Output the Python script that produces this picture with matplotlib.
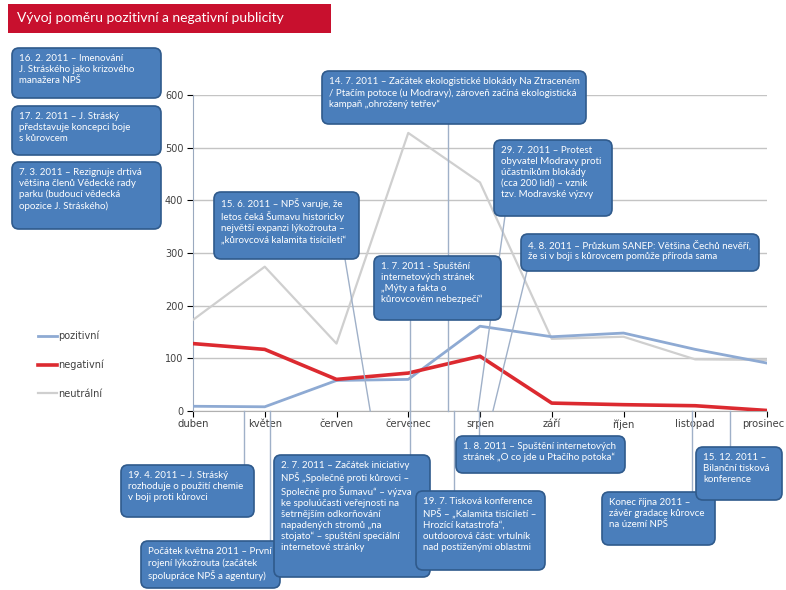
import matplotlib
matplotlib.use("Agg")
import matplotlib.pyplot as plt
import matplotlib.transforms as mtransforms
from matplotlib.patches import FancyBboxPatch, Rectangle

# data
months = ["duben", "květen", "červen", "červenec", "srpen", "září", "říjen", "listopad", "prosinec"]
pozitivni = [9, 8, 58, 60, 161, 141, 148, 117, 91]
negativni = [128, 117, 60, 72, 104, 15, 12, 10, 1]
neutralni = [173, 274, 128, 528, 434, 137, 141, 98, 97]

title = "Vývoj poměru pozitivní a negativní publicity"

# event annotations: text, position of the event on the month axis (None = no link)
events = [
    ("16. 2. 2011 – Imenování\nJ. Stráského jako krizového\nmanažera NPŠ", None),
    ("17. 2. 2011 – J. Stráský\npředstavuje koncepci boje\ns kůrovcem", None),
    ("7. 3. 2011 – Rezignuje drtivá\nvětšina členů Vědecké rady\nparku (budoucí vědecká\nopozice J. Stráského)", None),
    ("14. 7. 2011 – Začátek ekologistické blokády Na Ztraceném\n/ Ptačím potoce (u Modravy), zároveň začíná ekologistická\nkampaň „ohrožený tetřev“", 3.55),
    ("15. 6. 2011 – NPŠ varuje, že\nletos čeká Šumavu historicky\nnejvětší expanzi lýkožrouta –\n„kůrovcová kalamita tisíciletí“", 2.47),
    ("29. 7. 2011 – Protest\nobyvatel Modravy proti\núčastníkům blokády\n(cca 200 lidí) – vznik\ntzv. Modravské výzvy", 3.97),
    ("4. 8. 2011 – Průzkum SANEP: Většina Čechů nevěří,\nže si v boji s kůrovcem pomůže příroda sama", 4.18),
    ("1. 7. 2011 - Spuštění\ninternetových stránek\n„Mýty a fakta o\nkůrovcovém nebezpečí“", 3.03),
    ("19. 4. 2011 – J. Stráský\nrozhoduje o použití chemie\nv boji proti kůrovci", 0.71),
    ("Počátek května 2011 – První\nrojení lýkožrouta (začátek\nspolupráce NPŠ a agentury)", 1.08),
    ("2. 7. 2011 – Začátek iniciativy\nNPŠ „Společně proti kůrovci –\nSpolečně pro Šumavu“ – výzva\nke spoluúčasti veřejnosti na\nšetrnějším odkorňování\nnapadených stromů „na\nstojato“ – spuštění speciální\ninternetové stránky", 3.03),
    ("1. 8. 2011 – Spuštění internetových\nstránek „O co jde u Ptačího potoka“", 3.99),
    ("19. 7. Tisková konference\nNPŠ – „Kalamita tisíciletí –\nHrozící katastrofa“,\noutdoorová část: vrtulník\nnad postiženými oblastmi", 3.64),
    ("Konec října 2011 –\nzávěr gradace kůrovce\nna území NPŠ", 6.95),
    ("15. 12. 2011 –\nBilanční tisková\nkonference", 7.48),
]

# box layout in pixels: left, top, right, bottom, x where the link leaves the box (None = straight down/up)
boxes = [
    (12, 48, 161, 98, None),
    (12, 106, 161, 155, None),
    (12, 162, 161, 229, None),
    (322, 71, 586, 124, None),
    (214, 192, 359, 259, 345),
    (494, 140, 612, 216, 505),
    (521, 234, 759, 271, 527),
    (374, 256, 501, 320, None),
    (121, 465, 254, 517, None),
    (141, 541, 280, 588, None),
    (274, 455, 430, 577, None),
    (456, 436, 625, 473, None),
    (416, 491, 545, 570, None),
    (602, 492, 715, 545, None),
    (696, 447, 782, 500, None),
]

W, H = 786, 590
fig = plt.figure(figsize=(W / 100, H / 100), dpi=100)
fig.patch.set_facecolor("white")

# main line chart
ax = fig.add_axes([193 / W, 1 - 411 / H, 574 / W, 316 / H])
x = list(range(len(months)))
ax.plot(x, neutralni, color="#cfcfcf", lw=1.6, label="neutrální", zorder=3)
ax.plot(x, pozitivni, color="#8eaad3", lw=2.0, label="pozitivní", zorder=4)
ax.plot(x, negativni, color="#dc2a30", lw=2.6, label="negativní", zorder=5)

ax.set_xlim(0, 8)
ax.set_ylim(0, 600)
ax.set_yticks(range(0, 601, 100))
ax.set_xticks(x)
ax.set_xticklabels(months)
ax.grid(axis="y", color="#c4c4c4", lw=1.0)
ax.set_axisbelow(True)
for s in ["top", "right"]:
    ax.spines[s].set_visible(False)
ax.spines["left"].set_color("#9aa9bf")
ax.spines["bottom"].set_color("#b0b0b0")
ax.tick_params(axis="y", labelsize=7, length=4, width=0.8, pad=3)
ax.tick_params(axis="x", labelsize=7.2, length=4, width=0.8, pad=2)
for lab in ax.get_yticklabels() + ax.get_xticklabels():
    lab.set_color("#404040")
for t in ax.yaxis.get_ticklines():
    t.set_color("#9aa9bf")
for t in ax.xaxis.get_ticklines():
    t.set_color("#b0b0b0")
# last month label sits at the right edge, nudge it in a little
last = ax.get_xticklabels()[-1]
last.set_transform(last.get_transform() + mtransforms.ScaledTranslation(-4 / 100, 0, fig.dpi_scale_trans))

handles, labels = ax.get_legend_handles_labels()
order = [1, 2, 0]
fig.legend([handles[i] for i in order], [labels[i] for i in order],
           loc="upper left", bbox_to_anchor=(29 / W, 1 - 322 / H), frameon=False,
           fontsize=7, handlelength=2.0, handletextpad=0.1, labelspacing=1.9,
           labelcolor="#404040")

# overlay in pixel coordinates for title and event boxes
ov = fig.add_axes([0, 0, 1, 1], zorder=10)
ov.set_xlim(0, W)
ov.set_ylim(H, 0)
ov.axis("off")

ov.add_patch(Rectangle((8, 4), 323, 29, color="#c8102e", lw=0))
ov.text(17, 18.5, title, color="white", fontsize=10, family="Lato", va="center", ha="left")

fig.canvas.draw()
axis_y = H - ax.transData.transform((0, 0))[1]

for (txt, pos), (l, t, r, b, lx) in zip(events, boxes):
    if pos is not None:
        px = ax.transData.transform((pos, 0))[0]
        if t > axis_y:
            ov.plot([px, px], [axis_y, t], color="#9fb0c8", lw=1.0, zorder=1)
        else:
            sx = px if lx is None else lx
            ov.plot([sx, px], [b, axis_y], color="#9fb0c8", lw=1.0, zorder=1)
    ov.add_patch(FancyBboxPatch((l, t), r - l, b - t,
                                boxstyle="round,pad=0,rounding_size=7",
                                fc="#4a7ebb", ec="#2f5a8c", lw=1.2, zorder=2))
    ov.text(l + 7, t + 6, txt, color="white", fontsize=7.0, family="Lato",
            va="top", ha="left", linespacing=1.27, zorder=3)

fig.savefig("out.png", dpi=100)
